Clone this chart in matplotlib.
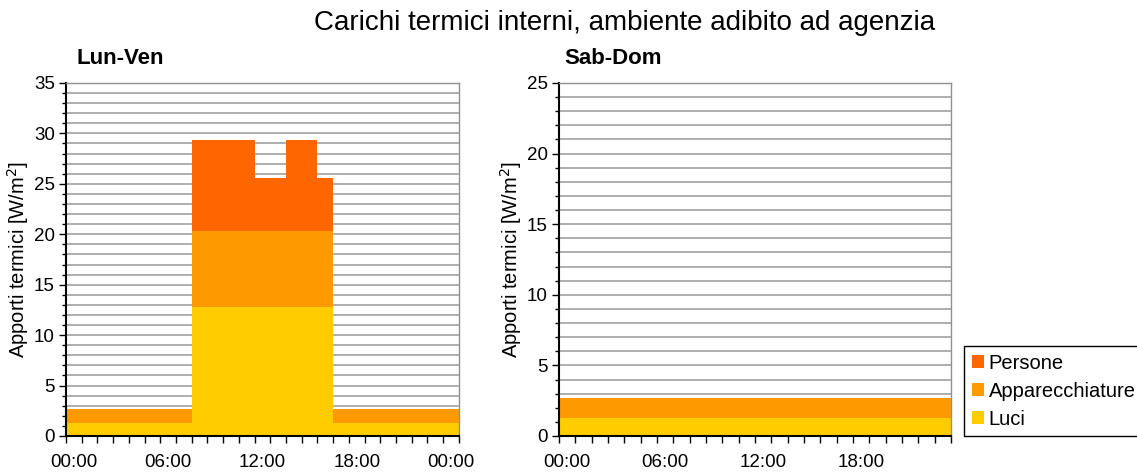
import matplotlib
matplotlib.use("Agg")
import matplotlib.pyplot as plt
from matplotlib.ticker import MultipleLocator, FixedLocator

plt.rcParams['font.family'] = ['Liberation Sans', 'DejaVu Sans']

# ore del giorno (categorie)
ore_feriali = list(range(25))   # 00:00 ... 00:00 del giorno dopo
ore_festivi = list(range(24))
etichette_feriali = ['00:00', '06:00', '12:00', '18:00', '00:00']
etichette_festivi = ['00:00', '06:00', '12:00', '18:00']

# Lun-Ven [W/m2]
luci_lv = [1.28, 1.28, 1.28, 1.28, 1.28, 1.28, 1.28, 1.28,
           12.8, 12.8, 12.8, 12.8, 12.8, 12.8, 12.8, 12.8, 12.8,
           1.28, 1.28, 1.28, 1.28, 1.28, 1.28, 1.28, 1.28]
app_lv = [1.37, 1.37, 1.37, 1.37, 1.37, 1.37, 1.37, 1.37,
          7.5, 7.5, 7.5, 7.5, 7.5, 7.5, 7.5, 7.5, 7.5,
          1.37, 1.37, 1.37, 1.37, 1.37, 1.37, 1.37, 1.37]
persone_lv = [0, 0, 0, 0, 0, 0, 0, 0,
              9.05, 9.05, 9.05, 9.05, 5.3, 5.3, 9.05, 9.05, 5.3,
              0, 0, 0, 0, 0, 0, 0, 0]

# Sab-Dom [W/m2]
luci_sd = [1.26] * 24
app_sd = [1.41] * 24
persone_sd = [0] * 24

c_luci = '#FFCC00'
c_app = '#FF9900'
c_pers = '#FF6600'

fig = plt.figure(figsize=(11.37, 4.72), dpi=100)
ax1 = fig.add_axes([0.0580, 0.0763, 0.3456, 0.7479])
ax2 = fig.add_axes([0.4916, 0.0763, 0.3448, 0.7479])


def disegna(ax, ore, luci, app, pers, ymax, etichette):
    base2 = [a + b for a, b in zip(luci, app)]
    ax.bar(ore, luci, width=1, align='edge', color=c_luci, label='Luci', zorder=2)
    ax.bar(ore, app, width=1, align='edge', bottom=luci, color=c_app,
           label='Apparecchiature', zorder=2)
    ax.bar(ore, pers, width=1, align='edge', bottom=base2, color=c_pers,
           label='Persone', zorder=2)
    n = len(ore)
    ax.set_xlim(0, n)
    ax.set_ylim(0, ymax)
    ax.yaxis.set_major_locator(MultipleLocator(5))
    ax.yaxis.set_minor_locator(MultipleLocator(1))
    ax.grid(axis='y', which='both', color='#999999', lw=1.1, zorder=0)
    ax.set_axisbelow(True)
    # etichette centrate sulle categorie, tacche sui bordi
    ax.xaxis.set_major_locator(FixedLocator([0.5 + 6 * i for i in range(len(etichette))]))
    ax.set_xticklabels(etichette)
    ax.xaxis.set_minor_locator(FixedLocator(list(range(n + 1))))
    ax.tick_params(axis='x', which='major', length=0, pad=13, labelsize=13.5)
    ax.tick_params(axis='x', which='minor', length=5, width=1, color='black')
    ax.tick_params(axis='y', which='major', length=5, width=1, labelsize=13.5, pad=3)
    ax.tick_params(axis='y', which='minor', length=3, width=1)
    for s in ['left', 'bottom']:
        ax.spines[s].set_color('black')
        ax.spines[s].set_linewidth(1.5)
    for s in ['right', 'top']:
        ax.spines[s].set_color('#909090')
        ax.spines[s].set_linewidth(1)
    ax.set_ylabel('Apporti termici [W/m$^2$]', fontsize=14.5)
    ax.yaxis.set_label_coords(-0.09, 0.5)


disegna(ax1, ore_feriali, luci_lv, app_lv, persone_lv, 35, etichette_feriali)
disegna(ax2, ore_festivi, luci_sd, app_sd, persone_sd, 25, etichette_festivi)

fig.text(0.549, 1 - 23 / 472, 'Carichi termici interni, ambiente adibito ad agenzia',
         ha='center', va='center', fontsize=20)
fig.text(77 / 1137, 1 - 59 / 472, 'Lun-Ven', ha='left', va='center',
         fontsize=16, fontweight='bold')
fig.text(564 / 1137, 1 - 59 / 472, 'Sab-Dom', ha='left', va='center',
         fontsize=16, fontweight='bold')

h, l = ax1.get_legend_handles_labels()
leg = fig.legend(h[::-1], l[::-1], loc='upper left',
                 bbox_to_anchor=(964 / 1137, 1 - 346 / 472),
                 fontsize=14.5, frameon=True, fancybox=False, framealpha=1,
                 edgecolor='black', handlelength=0.6, handleheight=0.6,
                 handletextpad=0.25, labelspacing=0.45, borderpad=0.38,
                 borderaxespad=0)
leg.get_frame().set_linewidth(1)

fig.savefig('out.png', dpi=100)
